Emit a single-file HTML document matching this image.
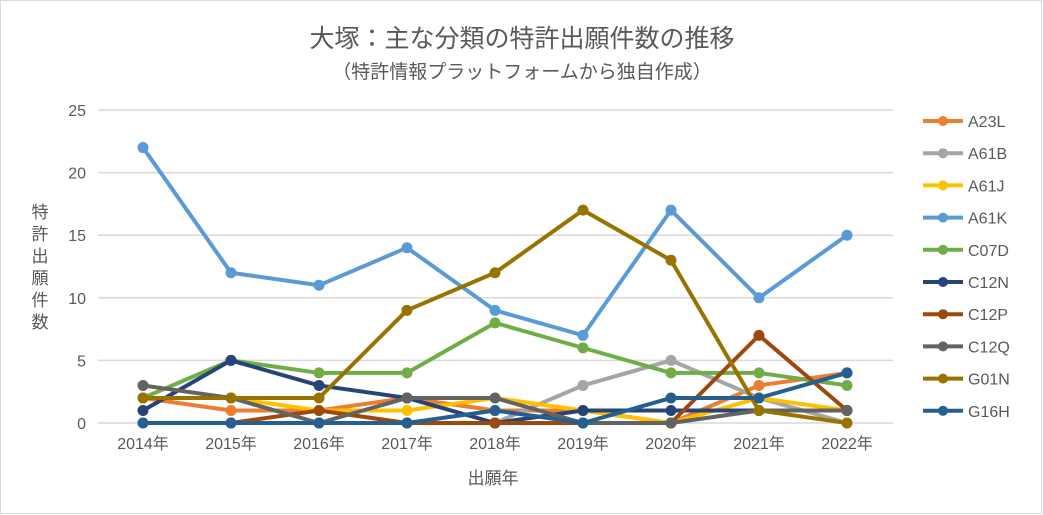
<!DOCTYPE html>
<html><head><meta charset="utf-8"><style>
body{margin:0;background:#fff;}
svg{display:block;font-family:"Liberation Sans","Noto Sans CJK JP",sans-serif;}
</style></head><body>
<svg id="chart" width="1043" height="515">
<rect x="0.5" y="0.5" width="1041" height="513" fill="#fff" stroke="#d9d9d9"/>
<text x="522" y="47" font-size="25" fill="#595959" text-anchor="middle">大塚：主な分類の特許出願件数の推移</text>
<text x="522" y="78" font-size="19" fill="#595959" text-anchor="middle">（特許情報プラットフォームから独自作成）</text>
<text x="493" y="484" font-size="17" fill="#595959" text-anchor="middle">出願年</text>
<g font-size="17" fill="#595959" text-anchor="middle">
<text x="40" y="218">特</text><text x="40" y="240">許</text><text x="40" y="262">出</text><text x="40" y="284">願</text><text x="40" y="306">件</text><text x="40" y="328">数</text>
</g>
<g id="grid"></g><g id="series"></g><g id="legend"></g>
</svg>
<script>
const years=["2014年","2015年","2016年","2017年","2018年","2019年","2020年","2021年","2022年"];
const yTicks=[0,5,10,15,20,25];
const names=["A23L","A61B","A61J","A61K","C07D","C12N","C12P","C12Q","G01N","G16H"];
const colors=["#ed7d31","#a5a5a5","#ffc000","#5b9bd5","#70ad47","#264478","#9e480e","#636363","#997300","#255e91"];
const A23L=[2,1,1,2,1,1,0,3,4];
const A61B=[0,0,0,0,0,3,5,2,0];
const A61J=[2,2,1,1,2,1,0,2,1];
const A61K=[22,12,11,14,9,7,17,10,15];
const C07D=[2,5,4,4,8,6,4,4,3];
const C12N=[1,5,3,2,0,1,1,1,1];
const C12P=[null,0,1,0,0,0,0,7,1];
const C12Q=[3,2,0,2,2,0,0,1,1];
const G01N=[2,2,2,9,12,17,13,1,0];
const G16H=[0,0,0,0,1,0,2,2,4];
const values=[A23L,A61B,A61J,A61K,C07D,C12N,C12P,C12Q,G01N,G16H];
const NS="http://www.w3.org/2000/svg";
const xS=i=>143+i*88, yS=v=>423-v*(313/25);
function mk(t,a,p){const e=document.createElementNS(NS,t);for(const k in a)e.setAttribute(k,a[k]);p.appendChild(e);return e;}
const grid=document.getElementById('grid');
yTicks.forEach(t=>{
 const l=mk('line',{x1:98,x2:893,y1:yS(t),y2:yS(t),stroke:'#d9d9d9','stroke-width':1.5},grid);
 
 
 const tx=mk('text',{x:86,y:yS(t)+6,'font-size':16,fill:'#595959','text-anchor':'end'},grid);tx.textContent=t;
 
 
});
years.forEach((y,i)=>{
 const tx=mk('text',{x:xS(i),y:449,'font-size':16,fill:'#595959','text-anchor':'middle'},grid);tx.textContent=y;
 
 
});
const ser=document.getElementById('series'),leg=document.getElementById('legend');
values.forEach((arr,s)=>{
 const g=mk('g',{},ser);
 
 
 let d='';arr.forEach((v,i)=>{if(v===null)return;d+=(d?'L':'M')+xS(i)+' '+yS(v);});
 mk('path',{d:d,fill:'none',stroke:colors[s],'stroke-width':4,'stroke-linejoin':'round'},g);
 arr.forEach((v,i)=>{if(v===null)return;const c=mk('circle',{cx:xS(i),cy:yS(v),r:5.5,fill:colors[s]},g);
  
  });
 const ly=121+s*32.2;
 const lg=mk('g',{},leg);
 
 
 mk('line',{x1:923,x2:963,y1:ly,y2:ly,stroke:colors[s],'stroke-width':4},lg);
 mk('circle',{cx:943,cy:ly,r:5,fill:colors[s]},lg);
 const t=mk('text',{x:968,y:ly+6,'font-size':16,fill:'#595959'},lg);t.textContent=names[s];
});
</script>
</body></html>
